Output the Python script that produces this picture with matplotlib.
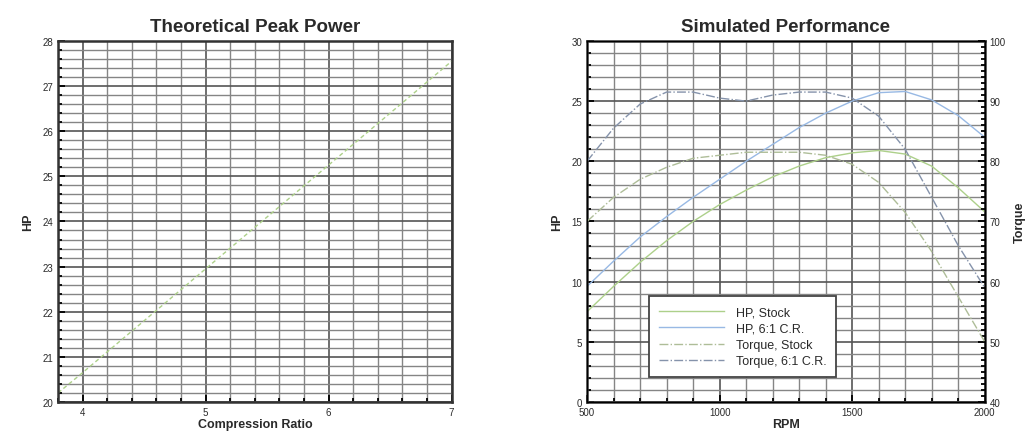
import numpy as np
import matplotlib
matplotlib.use('Agg')
import matplotlib.pyplot as plt
from matplotlib.ticker import MultipleLocator

plt.rcParams['font.family'] = ['Liberation Sans', 'DejaVu Sans']

# Theoretical peak power vs compression ratio
comp_ratio = [3.8, 4.0, 4.5, 5.0, 5.5, 6.0, 6.5, 7.0]
peak_hp = [20.2, 20.65, 21.8, 22.95, 24.1, 25.25, 26.4, 27.55]

# Simulated performance
rpm = [500, 600, 700, 800, 900, 1000, 1100, 1200, 1300, 1400, 1500, 1600, 1700, 1800, 1900, 2000]
hp_stock = [7.5, 9.6, 11.6, 13.4, 15.0, 16.4, 17.6, 18.7, 19.6, 20.3, 20.7, 20.9, 20.6, 19.6, 17.8, 15.8]
hp_cr = [9.6, 11.7, 13.7, 15.4, 17.0, 18.5, 20.0, 21.4, 22.8, 24.0, 25.0, 25.7, 25.8, 25.1, 23.8, 22.0]
tq_stock = [70, 74, 77, 79, 80.5, 81, 81.5, 81.5, 81.5, 81, 79.5, 76.5, 71.5, 65, 57.5, 50]
tq_cr = [80, 85.5, 89.5, 91.5, 91.5, 90.5, 90, 91, 91.5, 91.5, 90.5, 87.5, 82, 74, 66, 59]
labels = ['HP, Stock', 'HP, 6:1 C.R.', 'Torque, Stock', 'Torque, 6:1 C.R.']

green = '#add08a'
blue = '#98b9e4'
green_dd = '#aebd98'
blue_dd = '#8593ab'
txt = '#2a2a2a'


def style_axes(ax):
    ax.grid(True, which='major', color='#555555', linewidth=1.2)
    ax.grid(True, which='minor', color='#858585', linewidth=1.0)
    ax.set_axisbelow(True)
    for s in ax.spines.values():
        s.set_linewidth(1.8)
        s.set_color('#333333')
    ax.tick_params(which='both', direction='in', labelsize=7, width=1.3, labelcolor=txt)
    ax.tick_params(which='major', length=5)
    ax.tick_params(which='minor', length=3)


fig = plt.figure(figsize=(10.25, 4.35), dpi=100)

# Left chart
ax1 = fig.add_axes([0.0566, 0.0736, 0.384, 0.83])
ax1.plot(comp_ratio, peak_hp, color=green, linestyle=(0, (3, 2)), linewidth=1.0)
ax1.set_xlim(3.8, 7.0)
ax1.set_ylim(20, 28)
ax1.xaxis.set_major_locator(MultipleLocator(1))
ax1.xaxis.set_minor_locator(MultipleLocator(0.2))
ax1.yaxis.set_major_locator(MultipleLocator(1))
ax1.yaxis.set_minor_locator(MultipleLocator(0.2))
style_axes(ax1)
ax1.set_title('Theoretical Peak Power', fontsize=13.5, fontweight='bold', color=txt, pad=7)
ax1.set_xlabel('Compression Ratio', fontsize=9, fontweight='bold', color=txt, labelpad=1)
ax1.set_ylabel('HP', fontsize=9, fontweight='bold', color=txt, labelpad=6)

# Right chart
ax2 = fig.add_axes([0.5727, 0.0736, 0.388, 0.83])
l1, = ax2.plot(rpm, hp_stock, color=green, linewidth=1.0)
l2, = ax2.plot(rpm, hp_cr, color=blue, linewidth=1.0)
ax2.set_xlim(500, 2000)
ax2.set_ylim(0, 30)
ax2.xaxis.set_major_locator(MultipleLocator(500))
ax2.xaxis.set_minor_locator(MultipleLocator(100))
ax2.yaxis.set_major_locator(MultipleLocator(5))
ax2.yaxis.set_minor_locator(MultipleLocator(1))
style_axes(ax2)
ax2.set_title('Simulated Performance', fontsize=13.5, fontweight='bold', color=txt, pad=7)
ax2.set_xlabel('RPM', fontsize=9, fontweight='bold', color=txt, labelpad=1)
ax2.set_ylabel('HP', fontsize=9, fontweight='bold', color=txt, labelpad=6)

ax3 = ax2.twinx()
l3, = ax3.plot(rpm, tq_stock, color=green_dd, linestyle='-.', linewidth=1.0)
l4, = ax3.plot(rpm, tq_cr, color=blue_dd, linestyle='-.', linewidth=1.0)
ax3.set_ylim(40, 100)
ax3.yaxis.set_major_locator(MultipleLocator(10))
ax3.yaxis.set_minor_locator(MultipleLocator(1))
ax3.tick_params(which='both', direction='in', labelsize=7, width=1.3, labelcolor=txt)
ax3.tick_params(which='major', length=5)
ax3.tick_params(which='minor', length=3)
ax3.set_ylabel('Torque', fontsize=9, fontweight='bold', color=txt, labelpad=6)

leg = ax3.legend([l1, l2, l3, l4], labels, loc='lower left', bbox_to_anchor=(0.157, 0.068),
                 fontsize=9, handlelength=5.2, handletextpad=0.9, fancybox=False,
                 framealpha=1, edgecolor='#444444', borderpad=0.8, labelspacing=0.35,
                 borderaxespad=0)
leg.get_frame().set_linewidth(1.3)
for t in leg.get_texts():
    t.set_color(txt)

fig.savefig('out.png', dpi=100)
